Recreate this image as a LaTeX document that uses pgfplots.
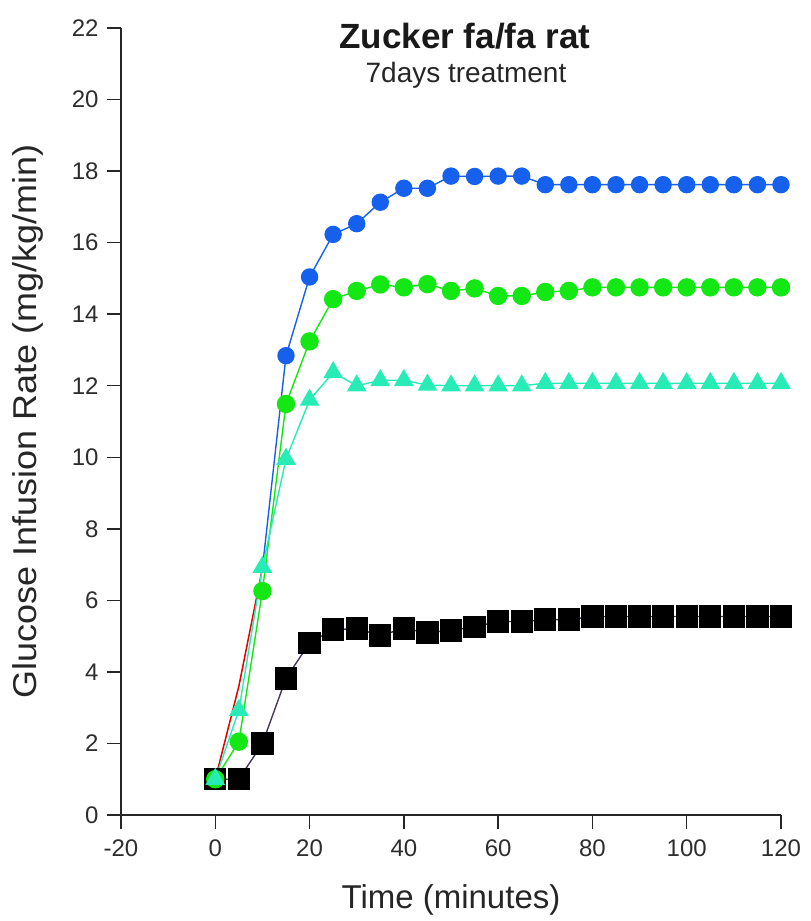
\documentclass[border=0pt]{standalone}
\usepackage{graphicx}
\usepackage{pgfplots}
\pgfplotsset{compat=1.18}
\usepackage{fontspec}
\setmainfont{Liberation Sans}

\definecolor{dotblue}{RGB}{22,96,238}
\definecolor{dotgreen}{RGB}{20,232,20}
\definecolor{triaqua}{RGB}{40,236,182}
\definecolor{sqline}{RGB}{70,55,90}
\definecolor{ticktext}{RGB}{45,45,45}

\begin{document}
\begin{tikzpicture}[x=1pt,y=1pt]
\begin{axis}[
  at={(0pt,0pt)}, anchor=south west,
  width=660pt, height=787pt, scale only axis,
  xmin=-20, xmax=120, ymin=0, ymax=22,
  xtick={-20,0,...,120}, ytick={0,2,...,22},
  axis lines=left,
  axis line style={-, line width=1.6pt, draw=black!85},
  every tick/.style={line width=1.4pt, black!85},
  tick align=outside,
  major tick length=14pt,
  /pgf/number format/assume math mode=true,
  tick label style={font=\fontsize{24}{28}\selectfont, text=ticktext},
  xticklabel style={yshift=-7pt},
  yticklabel style={xshift=-5pt},
  xlabel={Time (minutes)},
  ylabel={\scalebox{1.09}[1]{Glucose Infusion Rate (mg/kg/min)}},
  label style={font=\fontsize{33}{38}\selectfont, text=black!85},
  xlabel style={at={(axis description cs:0.5,0)}, anchor=center, yshift=-85pt},
  ylabel style={at={(axis description cs:-0.141,0.5)}, anchor=center},
  clip=false,
]
% vehicle (black squares)
\addplot[sqline, line width=1.4pt, mark=square*, mark size=10.5pt,
  mark options={solid, fill=black, draw=black}] coordinates {
  (0,1.0) (5,1.0) (10,2.0) (15,3.82) (20,4.81) (25,5.18) (30,5.21)
  (35,5.02) (40,5.21) (45,5.10) (50,5.16) (55,5.26) (60,5.41) (65,5.41)
  (70,5.46) (75,5.46) (80,5.55) (85,5.55) (90,5.55) (95,5.55) (100,5.55)
  (105,5.55) (110,5.55) (115,5.55) (120,5.55)};
% early rise of the top dose
\addplot[red!90!black, line width=1.5pt, mark=none] coordinates {
  (0,1.0) (5,3.6) (10,6.9)};
% top dose (blue circles)
\addplot[dotblue, line width=1.4pt, mark=*, mark size=8pt,
  mark indices={2,...,23},
  mark options={fill=dotblue, draw=dotblue}] coordinates {
  (10,6.9) (15,12.84) (20,15.04) (25,16.23) (30,16.53) (35,17.13) (40,17.52)
  (45,17.52) (50,17.86) (55,17.85) (60,17.86) (65,17.86) (70,17.62)
  (75,17.62) (80,17.62) (85,17.62) (90,17.62) (95,17.62) (100,17.62)
  (105,17.62) (110,17.62) (115,17.62) (120,17.62)};
% middle dose (green circles)
\addplot[dotgreen, line width=1.4pt, mark=*, mark size=8.5pt,
  mark options={fill=dotgreen, draw=dotgreen}] coordinates {
  (0,1.0) (5,2.05) (10,6.26) (15,11.49) (20,13.24) (25,14.42) (30,14.65)
  (35,14.83) (40,14.75) (45,14.84) (50,14.65) (55,14.72) (60,14.51)
  (65,14.51) (70,14.62) (75,14.65) (80,14.75) (85,14.75) (90,14.75)
  (95,14.75) (100,14.75) (105,14.75) (110,14.75) (115,14.75) (120,14.75)};
% low dose (aqua triangles)
\addplot[triaqua, line width=1.4pt, mark=triangle*, mark size=10pt,
  mark options={fill=triaqua, draw=triaqua}] coordinates {
  (0,1.0) (5,2.93) (10,6.93) (15,9.95) (20,11.6) (25,12.37) (30,12.0)
  (35,12.15) (40,12.15) (45,12.02) (50,12.0) (55,12.0) (60,12.0) (65,12.0)
  (70,12.07) (75,12.07) (80,12.07) (85,12.07) (90,12.07) (95,12.07)
  (100,12.07) (105,12.07) (110,12.07) (115,12.07) (120,12.07)};
\end{axis}
\node[font=\bfseries\fontsize{35}{40}\selectfont, text=black!90] at (344pt,779pt) {Zucker fa/fa rat};
\node[font=\fontsize{28}{32}\selectfont, text=black!85] at (345pt,740pt) {7days treatment};
\pgfresetboundingbox
\path[use as bounding box] (-121pt,-106pt) rectangle (690pt,815pt);
\end{tikzpicture}
\end{document}
